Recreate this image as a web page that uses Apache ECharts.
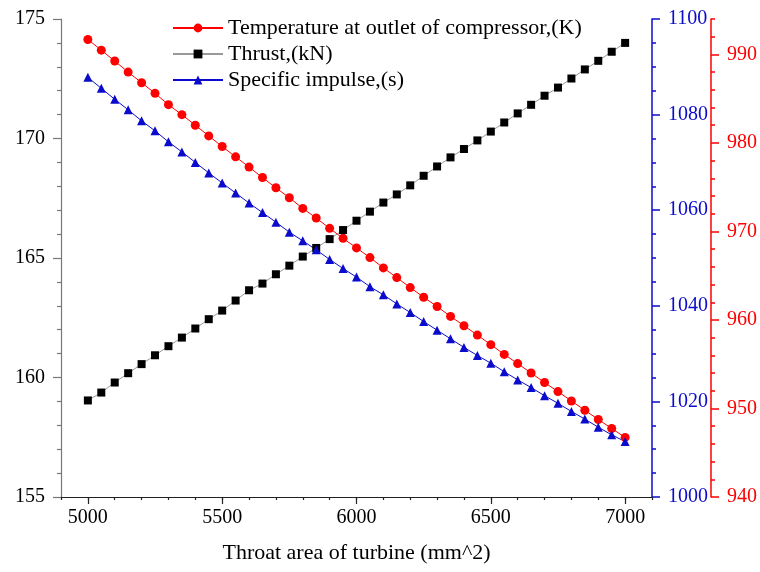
<!DOCTYPE html>
<html>
<head>
<meta charset="utf-8">
<script src="https://cdn.jsdelivr.net/npm/echarts@6/dist/echarts.min.js"></script>
<style>html,body{margin:0;padding:0;background:#fff}#c{width:760px;height:572px}</style>
</head>
<body>
<div id="c"></div>
<script>
var throatArea = [5000,5050,5100,5150,5200,5250,5300,5350,5400,5450,5500,5550,5600,5650,5700,5750,5800,5850,5900,5950,6000,6050,6100,6150,6200,6250,6300,6350,6400,6450,6500,6550,6600,6650,6700,6750,6800,6850,6900,6950,7000];
var temperatureK = [991.69,990.48,989.25,988.0,986.8,985.6,984.32,983.19,982.0,980.79,979.59,978.43,977.27,976.09,974.93,973.81,972.6,971.52,970.35,969.22,968.14,967.05,965.88,964.79,963.66,962.57,961.52,960.4,959.35,958.29,957.21,956.11,955.07,954.01,952.93,951.91,950.85,949.8,948.76,947.74,946.73];
var thrustKN = [159.04,159.37,159.79,160.18,160.56,160.93,161.31,161.67,162.05,162.44,162.8,163.22,163.65,163.93,164.32,164.68,165.06,165.42,165.79,166.17,166.56,166.94,167.32,167.66,168.04,168.44,168.83,169.21,169.56,169.92,170.29,170.67,171.05,171.41,171.79,172.13,172.51,172.89,173.25,173.63,174.0];
var specificImpulse = [1087.8,1085.5,1083.2,1081.0,1078.7,1076.6,1074.3,1072.2,1070.0,1067.8,1065.7,1063.6,1061.5,1059.5,1057.5,1055.4,1053.6,1051.7,1049.7,1047.8,1046.0,1044.0,1042.3,1040.4,1038.6,1036.7,1034.9,1033.1,1031.3,1029.6,1028.0,1026.2,1024.5,1022.9,1021.2,1019.6,1017.9,1016.3,1014.6,1013.0,1011.6];
var xTickLabels = [5000,5500,6000,6500,7000];
var redTickLabels = [940,950,960,970,980,990];
var seriesNames = ['Temperature at outlet of compressor,(K)','Thrust,(kN)','Specific impulse,(s)'];
var xName = 'Throat area of turbine (mm^2)';

function pairs(ys){ return throatArea.map(function(x,i){ return [x, ys[i]]; }); }
function plain(v){ return String(v); }

var FONT = 'Liberation Serif';
var BLUE = '#0b0bcc';
var RED = '#ff0000';

var chart = echarts.init(document.getElementById('c'), null, {renderer:'canvas'});
chart.setOption({
  animation:false,
  backgroundColor:'#fff',
  textStyle:{fontFamily:FONT},
  grid:{left:61, right:107, top:19, bottom:75, containLabel:false},
  legend:{
    orient:'vertical', left:172, top:17, padding:0, itemWidth:50, itemHeight:11, itemGap:4,
    textStyle:{fontFamily:FONT, fontSize:22, color:'#000'},
    data:seriesNames
  },
  xAxis:[{
    type:'value', min:4900, max:7100, interval:100,
    name:xName, nameLocation:'middle', nameGap:45,
    nameTextStyle:{fontFamily:FONT, fontSize:22, color:'#000'},
    axisLine:{show:true, lineStyle:{color:'#222', width:1.2}},
    axisTick:{show:true, inside:false, length:7, customValues:xTickLabels, lineStyle:{color:'#222', width:1.2}},
    axisLabel:{customValues:xTickLabels, formatter:plain, fontFamily:FONT, fontSize:20, color:'#000', margin:11},
    splitLine:{show:false}
  },{
    type:'value', min:4900, max:7100, interval:100, position:'bottom',
    axisLine:{show:false}, axisTick:{show:true, length:3, lineStyle:{color:'#222', width:1.2}},
    axisLabel:{show:false}, splitLine:{show:false}
  }],
  yAxis:[{
    type:'value', position:'left', min:155, max:175, interval:5,
    axisLine:{show:true, lineStyle:{color:'#777', width:1.2}},
    axisTick:{show:true, length:8, lineStyle:{color:'#777', width:1.2}},
    minorTick:{show:true, splitNumber:5, length:4, lineStyle:{color:'#777', width:1.2}},
    axisLabel:{formatter:plain, fontFamily:FONT, fontSize:20, color:'#000', margin:16},
    splitLine:{show:false}
  },{
    type:'value', position:'right', offset:0, min:1000, max:1100, interval:20,
    axisLine:{show:true, lineStyle:{color:BLUE, width:1.5}},
    axisTick:{show:true, length:8, lineStyle:{color:BLUE, width:1.5}},
    minorTick:{show:true, splitNumber:4, length:4, lineStyle:{color:BLUE, width:1.5}},
    axisLabel:{formatter:plain, fontFamily:FONT, fontSize:20, color:BLUE, margin:16},
    splitLine:{show:false}
  },{
    type:'value', position:'right', offset:59, min:940, max:994,
    axisLine:{show:true, lineStyle:{color:RED, width:1.5}},
    axisTick:{show:true, length:8, customValues:redTickLabels, lineStyle:{color:RED, width:1.5}},
    axisLabel:{customValues:redTickLabels, formatter:plain, fontFamily:FONT, fontSize:20, color:RED, margin:16},
    splitLine:{show:false}
  },{
    type:'value', position:'right', offset:59, min:940, max:994, interval:2,
    axisLine:{show:false},
    axisTick:{show:true, length:4, lineStyle:{color:RED, width:1.5}},
    axisLabel:{show:false}, splitLine:{show:false}
  }],
  series:[{
    name:seriesNames[0], type:'line', yAxisIndex:2, data:pairs(temperatureK),
    symbol:'circle', symbolSize:9, showAllSymbol:true,
    itemStyle:{color:RED}, lineStyle:{color:RED, width:1}
  },{
    name:seriesNames[1], type:'line', yAxisIndex:0, data:pairs(thrustKN),
    symbol:'rect', symbolSize:8, showAllSymbol:true,
    itemStyle:{color:'#000'}, lineStyle:{color:'#999', width:1}
  },{
    name:seriesNames[2], type:'line', yAxisIndex:1, data:pairs(specificImpulse),
    symbol:'triangle', symbolSize:9, showAllSymbol:true,
    itemStyle:{color:BLUE}, lineStyle:{color:BLUE, width:1}
  }]
});
</script>
</body>
</html>
